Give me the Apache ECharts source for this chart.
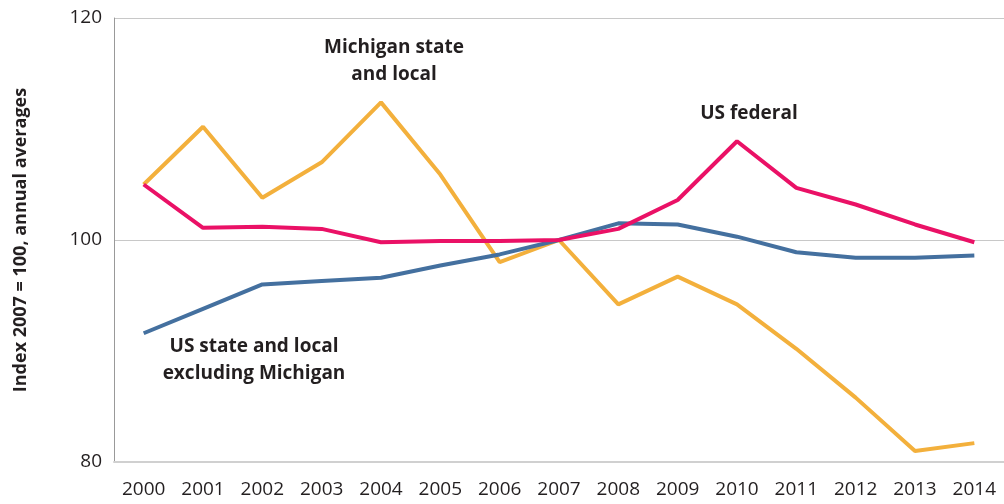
<!DOCTYPE html>
<html><head><meta charset="utf-8">
<script src="https://cdn.jsdelivr.net/npm/echarts@6/dist/echarts.min.js"></script>
<style>html,body{margin:0;padding:0;background:#fff}#c{width:1004px;height:504px}</style>
</head><body><div id="c"></div>
<script>
const years = ['2000','2001','2002','2003','2004','2005','2006','2007','2008','2009','2010','2011','2012','2013','2014'];
const michigan = [105.0,110.2,103.8,107.0,112.4,105.9,98.0,100.0,94.2,96.7,94.2,90.2,85.8,81.0,81.7];
const usFederal = [105.0,101.1,101.2,101.0,99.8,99.9,99.9,100.0,101.0,103.6,108.9,104.7,103.2,101.4,99.8];
const usStateLocal = [91.6,93.8,96.0,96.3,96.6,97.7,98.7,100.0,101.5,101.4,100.3,98.9,98.4,98.4,98.6];
const yTicks = [80,100,120];

const font = '"Open Sans", "Noto Sans", sans-serif';
const chart = echarts.init(document.getElementById('c'));
chart.setOption({
  animation:false,
  grid:{left:114,right:0,top:18,bottom:42,containLabel:false},
  xAxis:{type:'category',data:years,boundaryGap:true,
    axisLine:{lineStyle:{color:'#d0d0d0',width:2}},axisTick:{show:false},
    axisLabel:{color:'#231f20',fontSize:19,fontFamily:font,margin:18}},
  yAxis:{type:'value',min:yTicks[0],max:yTicks[yTicks.length-1],interval:20,
    name:'Index 2007 = 100, annual averages',nameLocation:'middle',nameGap:84,
    nameTextStyle:{color:'#231f20',fontSize:18,fontWeight:'bold',fontFamily:font},
    axisLine:{show:true,lineStyle:{color:'#999',width:1}},axisTick:{show:false},
    splitLine:{lineStyle:{color:'#c8c8c8',width:1}},
    axisLabel:{color:'#231f20',fontSize:19,fontFamily:font,margin:12}},
  series:[
    {name:'Michigan state and local',type:'line',data:michigan,symbol:'none',lineStyle:{color:'#f3b03c',width:4}},
    {name:'US state and local excluding Michigan',type:'line',data:usStateLocal,symbol:'none',lineStyle:{color:'#44709f',width:4}},
    {name:'US federal',type:'line',data:usFederal,symbol:'none',lineStyle:{color:'#ea1166',width:4}}
  ],
  graphic:[
    {type:'text',style:{text:'Michigan state\nand local',x:394,y:34,textAlign:'center',fill:'#231f20',font:'bold 19px '+font,lineHeight:27}},
    {type:'text',style:{text:'US federal',x:749,y:104,textAlign:'center',fill:'#231f20',font:'bold 19px '+font}},
    {type:'text',style:{text:'US state and local\nexcluding Michigan',x:254,y:333,textAlign:'center',fill:'#231f20',font:'bold 19px '+font,lineHeight:27}}
  ]
});
</script></body></html>
